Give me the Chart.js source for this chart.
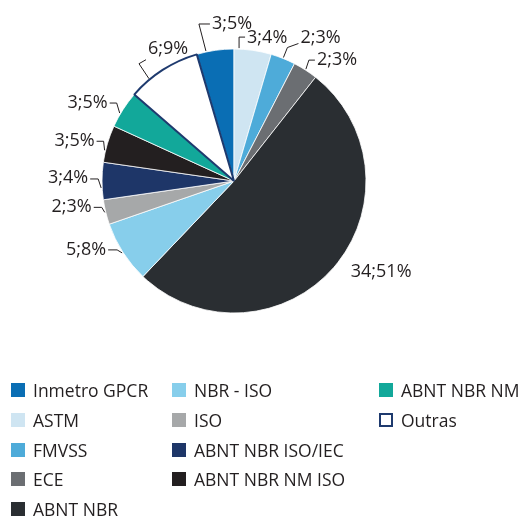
<!DOCTYPE html>
<html>
<head>
<meta charset="utf-8">
<script src="https://cdn.jsdelivr.net/npm/chart.js@4.4.1/dist/chart.umd.min.js"></script>
<style>
    body { margin: 0; background: #fff; font-family: "Open Sans", sans-serif; color: #231f20; }
    #wrap { position: relative; width: 531px; height: 517px; overflow: hidden; }
    #legenda div { position: absolute; font-size: 17.5px; line-height: 20px; white-space: nowrap; padding-left: 22px; }
    #legenda span { position: absolute; left: 0; top: 3px; width: 14px; height: 14px; box-sizing: border-box; }
</style>
</head>
<body>
<div id="wrap">
    <canvas id="pizza" width="531" height="517"></canvas>
    <div id="legenda"></div>
</div>
<script>
// Dados do gráfico
const categorias = ['Inmetro GPCR', 'ASTM', 'FMVSS', 'ECE', 'ABNT NBR', 'NBR - ISO', 'ISO',
    'ABNT NBR ISO/IEC', 'ABNT NBR NM ISO', 'ABNT NBR NM', 'Outras'];
const quantidades = [3, 3, 2, 2, 34, 5, 2, 3, 3, 3, 6];
const percentuais = [5, 4, 3, 3, 51, 8, 3, 4, 5, 5, 9];

// Cores
const cores = ['#0a6eb4', '#cfe5f2', '#4eabd9', '#6b6e72', '#2a2e32', '#87ceeb', '#a6a8a9',
    '#1e3668', '#231f20', '#12a89a', '#ffffff'];
const corBorda = '#1e3a6e';
const corTexto = '#231f20';

// Posição dos rótulos: [desvio do ângulo, cotovelo dx, cotovelo dy, traço, traço dy, texto dy]
const rotulos = [
    [-4, -7, -27, 11, 0, 0],
    [-6, 0, -11, 6, 0, 1],
    [0, 4, -10, 11, -4, -10],
    [0, 3, -9, 6, 0, 0],
    null,
    [0, -5, -3, -9, 0, 0],
    [0, -3, -5, -8, 0, 0],
    [-3, -3, -9, -8, 0, -1],
    [-3, -1, -9, -7, 0, 0],
    [-2, -3, -10, -7, 0, 0],
    [-7, -10, -15, 7, -4, -15]
];

const total = quantidades.reduce((a, b) => a + b, 0);

const pluginRotulos = {
    id: 'rotulos',
    afterDatasetsDraw(chart) {
        const ctx = chart.ctx;
        const arcos = chart.getDatasetMeta(0).data;
        ctx.save();
        ctx.font = '18px "Open Sans"';
        ctx.fillStyle = corTexto;
        ctx.strokeStyle = corTexto;
        ctx.lineWidth = 1;
        ctx.textBaseline = 'middle';
        arcos.forEach((arco, i) => {
            const texto = quantidades[i] + ';' + percentuais[i] + '%';
            const cfg = rotulos[i];
            const r = arco.outerRadius;
            const meio = (arco.startAngle + arco.endAngle) / 2;
            if (!cfg) {
                const ax = arco.x + r * Math.cos(meio);
                const ay = arco.y + r * Math.sin(meio);
                ctx.textAlign = 'left';
                ctx.fillText(texto, ax + 17, ay + 4);
                return;
            }
            const ang = meio + cfg[0] * Math.PI / 180;
            const ax = arco.x + (r + 1) * Math.cos(ang);
            const ay = arco.y + (r + 1) * Math.sin(ang);
            const ex = ax + cfg[1];
            const ey = ay + cfg[2];
            const tx = ex + cfg[3];
            const ty = ey + cfg[4];
            ctx.beginPath();
            ctx.moveTo(ax, ay);
            ctx.lineTo(ex, ey);
            ctx.lineTo(tx, ty);
            ctx.stroke();
            ctx.textAlign = cfg[3] > 0 ? 'left' : 'right';
            ctx.fillText(texto, tx + (cfg[3] > 0 ? 2 : -2), ey + cfg[5]);
        });
        ctx.restore();
    }
};

new Chart(document.getElementById('pizza'), {
    type: 'pie',
    data: {
        labels: categorias,
        datasets: [{
            data: quantidades,
            backgroundColor: cores,
            borderColor: cores.map((c, i) => i === cores.length - 1 ? corBorda : '#ffffff'),
            borderWidth: cores.map((c, i) => i === cores.length - 1 ? 2 : 0.8),
            hoverOffset: 0
        }]
    },
    options: {
        responsive: false,
        animation: false,
        rotation: -quantidades[0] / total * 360,
        layout: { padding: { left: 101, right: 164, top: 48, bottom: 203 } },
        plugins: {
            legend: { display: false },
            tooltip: { enabled: false }
        }
    },
    plugins: [pluginRotulos]
});

// Legenda em colunas
const colunas = [[0, 1, 2, 3, 4], [5, 6, 7, 8], [9, 10]];
const colunaX = [11, 172, 379];
const legenda = document.getElementById('legenda');
colunas.forEach((col, c) => {
    col.forEach((idx, linha) => {
        const item = document.createElement('div');
        item.style.left = colunaX[c] + 'px';
        item.style.top = (380 + linha * 29.8) + 'px';
        const q = document.createElement('span');
        q.style.background = cores[idx];
        if (idx === cores.length - 1) q.style.border = '2px solid ' + corBorda;
        item.appendChild(q);
        item.appendChild(document.createTextNode(categorias[idx]));
        legenda.appendChild(item);
    });
});
</script>
</body>
</html>
